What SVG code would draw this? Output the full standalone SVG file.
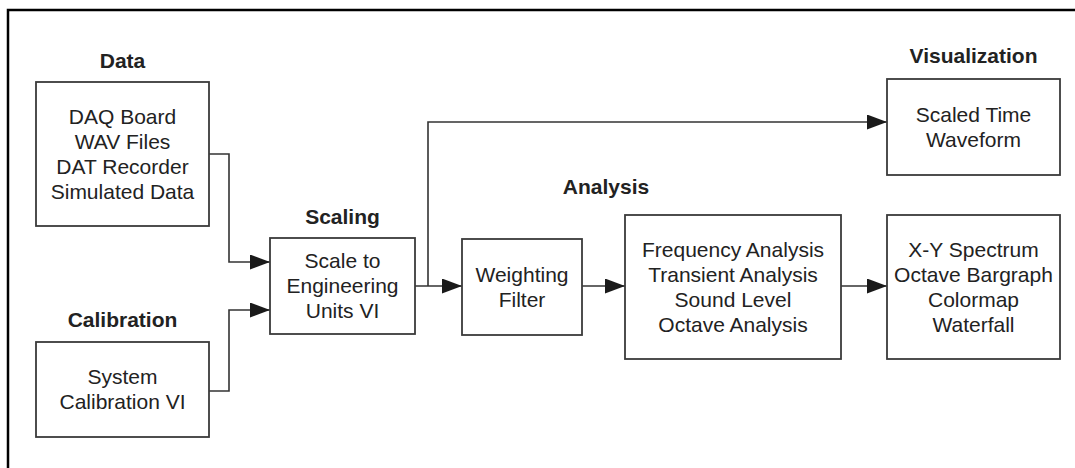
<svg xmlns="http://www.w3.org/2000/svg" width="1075" height="468" viewBox="0 0 1075 468">
<style>
.box{fill:#fff;stroke:#3a3a3a;stroke-width:1.8}
.t{font-family:"Liberation Sans",Arial,sans-serif;font-size:21px;fill:#222;text-anchor:middle}
.h{font-family:"Liberation Sans",Arial,sans-serif;font-size:21px;font-weight:bold;fill:#222;text-anchor:middle}
.c{fill:none;stroke:#333;stroke-width:1.6}
</style>
<defs>
<marker id="arr" markerUnits="userSpaceOnUse" markerWidth="20" markerHeight="15" refX="20" refY="7.5" orient="auto">
<path d="M0,0 L20,7.5 L0,15 z" fill="#1a1a1a"/>
</marker>
</defs>
<rect width="1075" height="468" fill="#fff"/>
<g id="frame">
<path d="M8,468 V10 H1075" fill="none" stroke="#000" stroke-width="2.5"/>
</g>
<g id="connectors">
<path class="c" d="M209,154 H229 V262 H270" marker-end="url(#arr)"/>
<path class="c" d="M209,391 H229 V310 H270" marker-end="url(#arr)"/>
<path class="c" d="M415,286 H462" marker-end="url(#arr)"/>
<path class="c" d="M428,286 V122 H887" marker-end="url(#arr)"/>
<path class="c" d="M582,286 H625" marker-end="url(#arr)"/>
<path class="c" d="M841,286 H887" marker-end="url(#arr)"/>
</g>
<g id="data">
<text class="h" x="122.5" y="68">Data</text>
<rect class="box" x="36" y="82" width="173" height="144"/>
<text class="t" x="122.5" y="124">DAQ Board</text>
<text class="t" x="122.5" y="149">WAV Files</text>
<text class="t" x="122.5" y="174">DAT Recorder</text>
<text class="t" x="122.5" y="199">Simulated Data</text>
</g>
<g id="calibration">
<text class="h" x="122.5" y="327">Calibration</text>
<rect class="box" x="36" y="342" width="173" height="95"/>
<text class="t" x="122.5" y="384">System</text>
<text class="t" x="122.5" y="409">Calibration VI</text>
</g>
<g id="scaling">
<text class="h" x="342.5" y="224">Scaling</text>
<rect class="box" x="270" y="238" width="145" height="96"/>
<text class="t" x="342.5" y="268">Scale to</text>
<text class="t" x="342.5" y="293">Engineering</text>
<text class="t" x="342.5" y="318">Units VI</text>
</g>
<g id="weighting">
<rect class="box" x="462" y="239" width="120" height="96"/>
<text class="t" x="522" y="282">Weighting</text>
<text class="t" x="522" y="307">Filter</text>
</g>
<g id="analysis">
<text class="h" x="606" y="194">Analysis</text>
<rect class="box" x="625" y="215" width="216" height="144"/>
<text class="t" x="733" y="257">Frequency Analysis</text>
<text class="t" x="733" y="282">Transient Analysis</text>
<text class="t" x="733" y="307">Sound Level</text>
<text class="t" x="733" y="332">Octave Analysis</text>
</g>
<g id="visualization-time">
<text class="h" x="973.5" y="63">Visualization</text>
<rect class="box" x="887" y="79" width="173" height="96"/>
<text class="t" x="973.5" y="122">Scaled Time</text>
<text class="t" x="973.5" y="147">Waveform</text>
</g>
<g id="visualization-spectrum">
<rect class="box" x="887" y="215" width="173" height="144"/>
<text class="t" x="973.5" y="257">X-Y Spectrum</text>
<text class="t" x="973.5" y="282">Octave Bargraph</text>
<text class="t" x="973.5" y="307">Colormap</text>
<text class="t" x="973.5" y="332">Waterfall</text>
</g>
</svg>
